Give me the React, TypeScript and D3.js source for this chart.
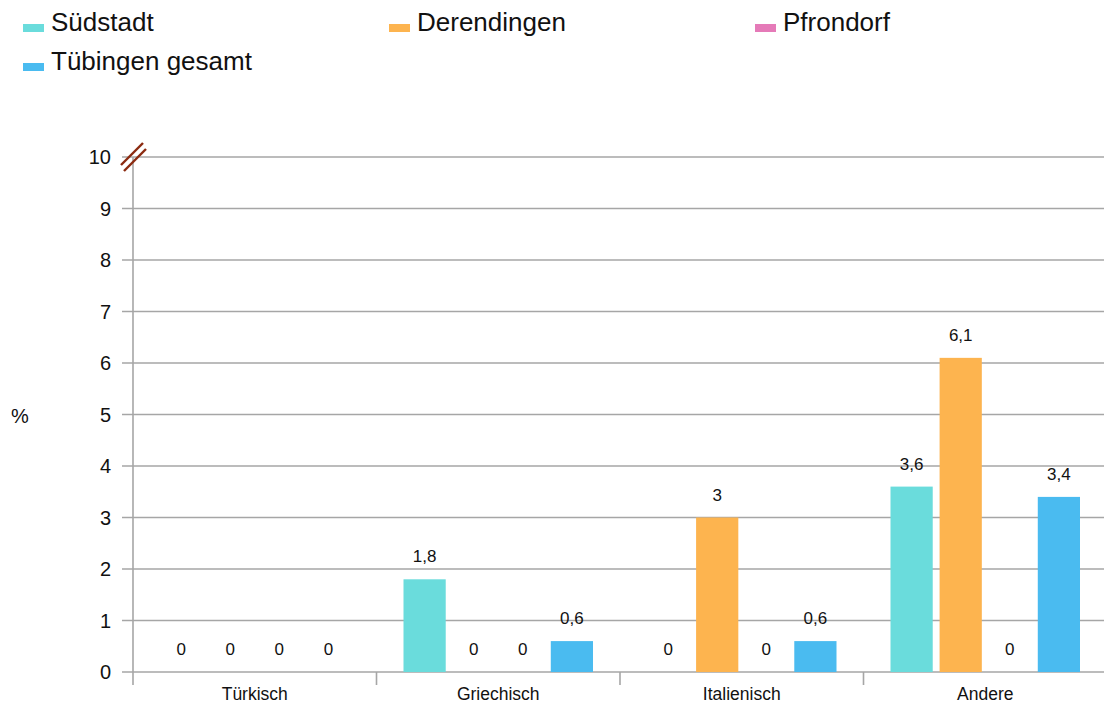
import { useMemo } from "react";
import * as d3 from "d3";

const categories = ["Türkisch", "Griechisch", "Italienisch", "Andere"];
const seriesNames = ["Südstadt", "Derendingen", "Pfrondorf", "Tübingen gesamt"];
const seriesColors = ["#6adcdc", "#fdb44f", "#e57ab8", "#4abbf0"];
// values per series, one per category
const suedstadt = [0, 1.8, 0, 3.6];
const derendingen = [0, 0, 3, 6.1];
const pfrondorf = [0, 0, 0, 0];
const tuebingen = [0, 0.6, 0.6, 3.4];
const yTicks = [0, 1, 2, 3, 4, 5, 6, 7, 8, 9, 10];

const W = 1104;
const H = 704;
const margin = { top: 157, right: -3, bottom: 32, left: 133 };
const gridColor = "#a6a6a6";
const font = "Liberation Sans, Arial, sans-serif";

const fmt = (v: number) => String(v).replace(".", ",");

export default function App() {
  const values = [suedstadt, derendingen, pfrondorf, tuebingen];
  const plotBottom = H - margin.bottom;
  const plotRight = W - margin.right;

  const x0 = useMemo(
    () => d3.scaleBand().domain(categories).range([margin.left, plotRight]).padding(0),
    []
  );
  const groupPad = 27;
  const x1 = useMemo(
    () =>
      d3
        .scaleBand()
        .domain(seriesNames)
        .range([groupPad, x0.bandwidth() - groupPad])
        .paddingInner(0.14)
        .paddingOuter(0),
    [x0]
  );
  const y = useMemo(
    () => d3.scaleLinear().domain([0, 10]).range([plotBottom, margin.top]),
    []
  );

  const legendPos = [
    { x: 23, y: 0 },
    { x: 389, y: 0 },
    { x: 755, y: 0 },
    { x: 23, y: 39 },
  ];

  return (
    <svg
      width={W}
      height={H}
      style={{ position: "absolute", left: 0, top: 0, background: "#fff" }}
      fontFamily={font}
    >
      {/* legend */}
      {seriesNames.map((name, i) => (
        <g key={name} transform={`translate(${legendPos[i].x},${legendPos[i].y})`}>
          <rect x={0} y={24} width={21} height={8} fill={seriesColors[i]} />
          <text x={28} y={31} fontSize={26} fill="#111">
            {name}
          </text>
        </g>
      ))}

      {/* gridlines + y ticks */}
      {yTicks.map((t) => (
        <g key={t}>
          <line
            x1={margin.left - 11}
            x2={plotRight}
            y1={y(t)}
            y2={y(t)}
            stroke={gridColor}
            strokeWidth={1.6}
          />
          <text
            x={111}
            y={y(t)}
            dy="0.35em"
            textAnchor="end"
            fontSize={20}
            fill="#111"
          >
            {t}
          </text>
        </g>
      ))}

      {/* y axis line */}
      <line
        x1={margin.left}
        x2={margin.left}
        y1={margin.top}
        y2={plotBottom + 13}
        stroke={gridColor}
        strokeWidth={1.6}
      />

      {/* category separators */}
      {categories.map((c) => (
        <line
          key={c}
          x1={(x0(c) ?? 0) + x0.bandwidth()}
          x2={(x0(c) ?? 0) + x0.bandwidth()}
          y1={plotBottom}
          y2={plotBottom + 13}
          stroke={gridColor}
          strokeWidth={1.6}
        />
      ))}

      {/* break mark */}
      <g stroke="#8b2a10" strokeWidth={2.4}>
        <line x1={121} y1={165} x2={143} y2={143} />
        <line x1={124} y1={171} x2={146} y2={149} />
      </g>

      {/* bars */}
      {categories.map((c, ci) => (
        <g key={c} transform={`translate(${x0(c)},0)`}>
          {seriesNames.map((s, si) => {
            const v = values[si][ci];
            const bx = x1(s) ?? 0;
            return (
              <g key={s}>
                {v > 0 && (
                  <rect
                    x={bx}
                    y={y(v)}
                    width={x1.bandwidth()}
                    height={plotBottom - y(v)}
                    fill={seriesColors[si]}
                  />
                )}
                <text
                  x={bx + x1.bandwidth() / 2}
                  y={y(v) - 17}
                  textAnchor="middle"
                  fontSize={17}
                  fill="#111"
                >
                  {fmt(v)}
                </text>
              </g>
            );
          })}
          <text
            x={x0.bandwidth() / 2}
            y={plotBottom + 28}
            textAnchor="middle"
            fontSize={17.5}
            fill="#111"
          >
            {c}
          </text>
        </g>
      ))}

      {/* y axis title */}
      <text x={11} y={423} fontSize={20} fill="#111">
        %
      </text>
    </svg>
  );
}
